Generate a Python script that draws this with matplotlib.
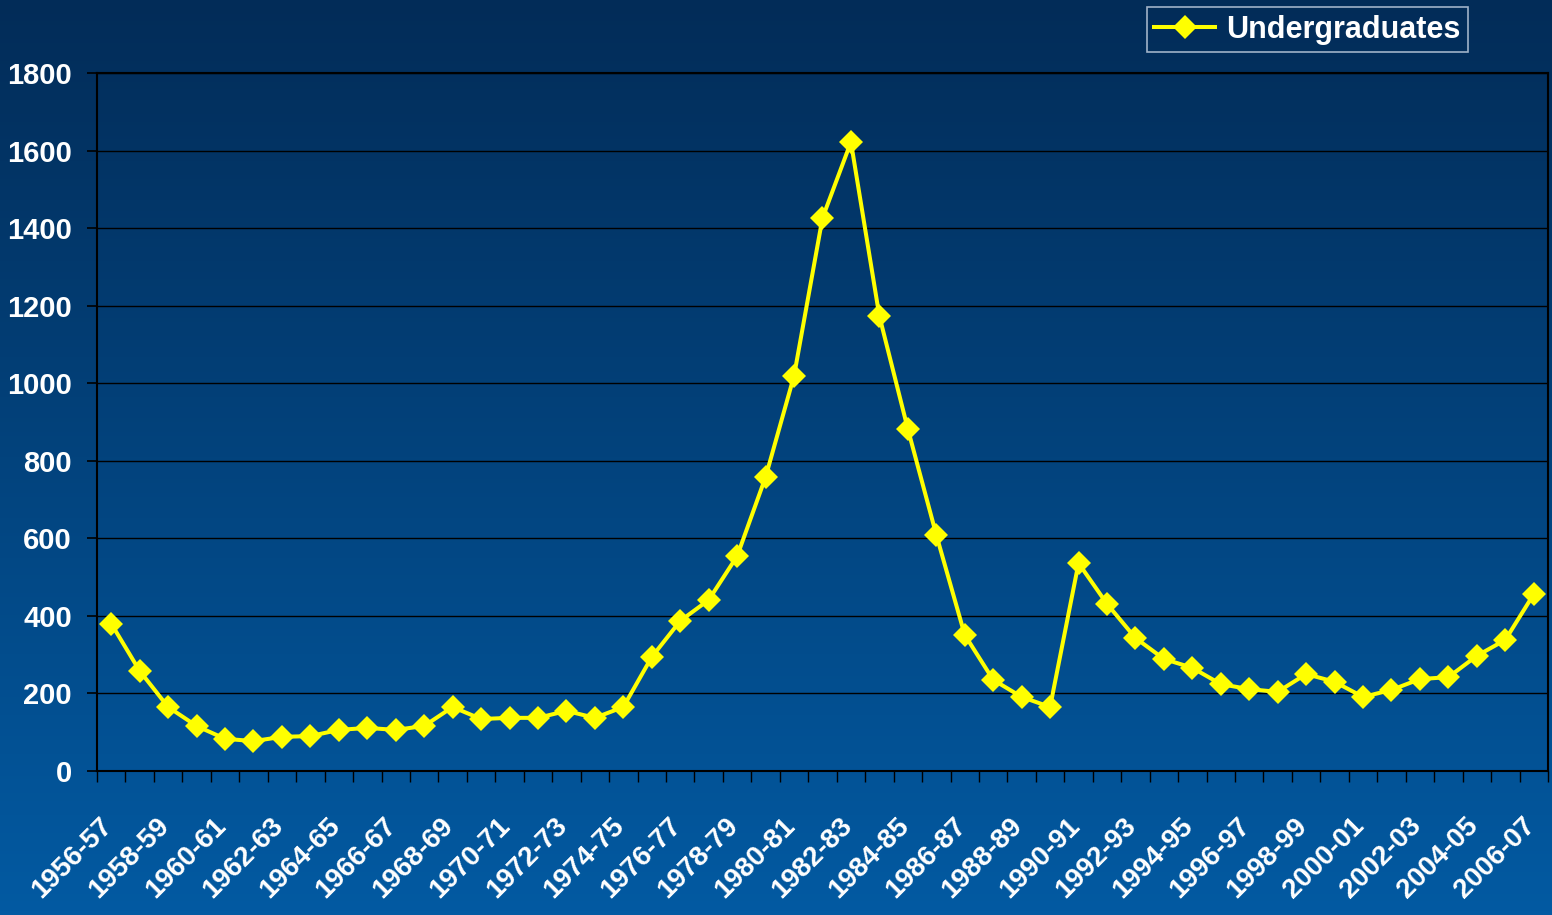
import numpy as np
import matplotlib.pyplot as plt
import matplotlib.transforms as mtransforms
from matplotlib.colors import LinearSegmentedColormap

# ── Data ─────────────────────────────────────────────────────────────────────
YEARS = [f"{y}-{str(y + 1)[-2:]}" for y in range(1956, 2007)]
UNDERGRADS = [
    380, 258, 165, 116, 83, 77, 88, 90, 106, 111,
    106, 116, 165, 134, 137, 137, 155, 137, 165, 294,
    387, 441, 554, 758, 1019, 1426, 1622, 1173, 882, 609,
    351, 235, 191, 165, 536, 431, 343, 289, 266, 224,
    211, 204, 250, 230, 191, 209, 237, 242, 297, 338,
    456,
]
Y_TICKS = [0, 200, 400, 600, 800, 1000, 1200, 1400, 1600, 1800]

# ── Style ────────────────────────────────────────────────────────────────────
plt.rcParams["font.family"] = ["Liberation Sans", "DejaVu Sans"]
YELLOW = "#FFFF00"
BG_TOP = "#022C58"
BG_BOT = "#035AA2"

fig = plt.figure(figsize=(15.52, 9.15), dpi=100)

# gradient background over the whole figure
bg = fig.add_axes([0, 0, 1, 1], zorder=0)
grad = np.linspace(0, 1, 256).reshape(-1, 1)
cmap = LinearSegmentedColormap.from_list("bg", [BG_TOP, BG_BOT])
bg.imshow(grad, aspect="auto", cmap=cmap, extent=[0, 1, 0, 1])
bg.set_axis_off()

ax = fig.add_axes([0.0625, 0.1574, 0.9349, 0.7628], zorder=1)
ax.set_facecolor("none")

x = np.arange(len(YEARS))
ax.plot(x, UNDERGRADS, color=YELLOW, linewidth=2.9, marker="D",
        markersize=12, markeredgewidth=0, label="Undergraduates",
        zorder=3, clip_on=False)

ax.set_xlim(-0.5, len(YEARS) - 0.5)
ax.set_ylim(0, 1800)

# y axis
ax.set_yticks(Y_TICKS)
ax.set_yticklabels([str(v) for v in Y_TICKS], fontsize=21,
                   fontweight="bold", color="white")
ax.tick_params(axis="y", length=7, width=1.2, color="black", pad=11)
ax.grid(axis="y", color="black", linewidth=1.0)
ax.set_axisbelow(True)

# x axis: tick marks at category edges, labels every other category
ax.set_xticks(np.arange(len(YEARS) + 1) - 0.5)
ax.set_xticklabels([])
ax.tick_params(axis="x", which="major", direction="out", length=8,
               width=1.0, color="black")
ax.set_xticks(x[::2], minor=True)
ax.set_xticklabels(YEARS[::2], minor=True, rotation=45, ha="right",
                   va="top", rotation_mode="anchor", fontsize=20,
                   fontweight="bold", color="white")
ax.tick_params(axis="x", which="minor", length=0, pad=30)
shift = mtransforms.ScaledTranslation(-12 / 100, 0, fig.dpi_scale_trans)
for lab in ax.get_xticklabels(minor=True):
    lab.set_transform(lab.get_transform() + shift)

for side in ("left", "bottom", "top", "right"):
    ax.spines[side].set_color("black")
    ax.spines[side].set_linewidth(1.5)

leg = fig.legend(loc="upper right", bbox_to_anchor=(0.9459, 0.9924),
                 borderaxespad=0, frameon=True, fancybox=False,
                 handlelength=2.0, borderpad=0.25, handletextpad=0.35,
                 prop={"weight": "bold", "size": 22})
leg.get_frame().set_facecolor("none")
leg.get_frame().set_edgecolor("#C8D4E4")
leg.get_frame().set_linewidth(1.2)
for t in leg.get_texts():
    t.set_color("white")

fig.savefig("out.png", dpi=100)
